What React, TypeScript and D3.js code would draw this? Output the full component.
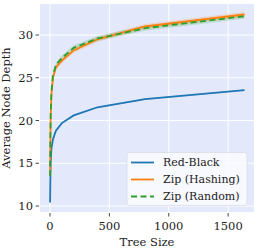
import React from "react";
import * as d3 from "d3";

const sizes = [1, 3, 6, 12, 25, 50, 100, 200, 400, 800, 1638];
const redBlack = [10.4, 13.0, 15.0, 16.7, 17.8, 18.8, 19.7, 20.6, 21.55, 22.5, 23.55];
const zipHashing = [13.6, 17.5, 20.5, 23.0, 25.0, 26.2, 27.0, 28.2, 29.5, 31.0, 32.4];
const zipRandom = [13.5, 17.6, 20.8, 23.3, 25.3, 26.5, 27.3, 28.5, 29.6, 30.8, 32.2];
const band = [0.05, 0.1, 0.15, 0.2, 0.25, 0.3, 0.3, 0.3, 0.3, 0.3, 0.3];
const xTicks = [0, 500, 1000, 1500];
const yTicks = [10, 15, 20, 25, 30];

const series = [
  { name: "Red-Black", values: redBlack, color: "#1f77b4", band: "#1f77b4", dash: null, bandScale: 0.3 },
  { name: "Zip (Hashing)", values: zipHashing, color: "#ff7f0e", band: "#ff7f0e", dash: null, bandScale: 1 },
  { name: "Zip (Random)", values: zipRandom, color: "#2ca02c", band: "#2ca02c", dash: "6,3.5", bandScale: 1 },
];

const W = 259, H = 249;
const M = { left: 40, right: 5, top: 4, bottom: 37 };
const font = "DejaVu Serif";

export default function App() {
  const x = d3.scaleLinear().domain([-84, 1718]).range([M.left, W - M.right]);
  const y = d3.scaleLinear().domain([9.3, 33.63]).range([H - M.bottom, M.top]);
  const line = (vals: number[]) =>
    d3.line<number>().x((_, i) => x(sizes[i])).y((d) => y(d))(vals) as string;
  const area = (vals: number[], s: number) =>
    d3
      .area<number>()
      .x((_, i) => x(sizes[i]))
      .y0((d, i) => y(d - band[i] * s))
      .y1((d, i) => y(d + band[i] * s))(vals) as string;
  const pl = M.left, pr = W - M.right, pt = M.top, pb = H - M.bottom;
  const lx = 127, ly = 152.5, lw = 120, lh = 53;
  return (
    <svg width={W} height={H} style={{ position: "fixed", left: 0, top: 0, background: "#fff", fontFamily: font }}>
      <rect x={pl} y={pt} width={pr - pl} height={pb - pt} fill="#e3e9fa" />
      {xTicks.map((t) => (
        <g key={"x" + t}>
          <line x1={x(t)} x2={x(t)} y1={pt} y2={pb} stroke="#fff" strokeWidth={1} />
          <line x1={x(t)} x2={x(t)} y1={pb + 1} y2={pb + 4.5} stroke="#333" strokeWidth={0.9} />
          <text x={x(t)} y={pb + 18} fontSize={11.5} textAnchor="middle" fill="#222">{t}</text>
        </g>
      ))}
      {yTicks.map((t) => (
        <g key={"y" + t}>
          <line x1={pl} x2={pr} y1={y(t)} y2={y(t)} stroke="#fff" strokeWidth={1} />
          <line x1={pl - 4.5} x2={pl - 1} y1={y(t)} y2={y(t)} stroke="#333" strokeWidth={0.9} />
          <text x={pl - 7} y={y(t)} dy="0.35em" fontSize={11.5} textAnchor="end" fill="#222">{t}</text>
        </g>
      ))}
      {series.map((s) => (
        <path key={"b" + s.name} d={area(s.values, s.bandScale)} fill={s.band} opacity={0.2} />
      ))}
      {series.map((s) => (
        <path
          key={s.name}
          d={line(s.values)}
          fill="none"
          stroke={s.color}
          strokeWidth={1.8}
          strokeDasharray={s.dash ?? undefined}
        />
      ))}
      <rect x={lx} y={ly} width={lw} height={lh} rx={2.5} fill="#fbfcff" fillOpacity={0.85} stroke="#d8dce4" strokeWidth={0.8} />
      {series.map((s, i) => {
        const yy = ly + 10 + i * 17;
        return (
          <g key={"l" + s.name}>
            <line x1={lx + 4} x2={lx + 27} y1={yy} y2={yy} stroke={s.color} strokeWidth={1.8} strokeDasharray={s.dash ?? undefined} />
            <text x={lx + 36} y={yy} dy="0.35em" fontSize={11} fill="#222">{s.name}</text>
          </g>
        );
      })}
      <text x={(pl + pr) / 2} y={H - 3.5} fontSize={11.5} textAnchor="middle" fill="#222">Tree Size</text>
      <text transform={`translate(10,${(pt + pb) / 2}) rotate(-90)`} fontSize={11.5} textAnchor="middle" fill="#222">Average Node Depth</text>
    </svg>
  );
}
